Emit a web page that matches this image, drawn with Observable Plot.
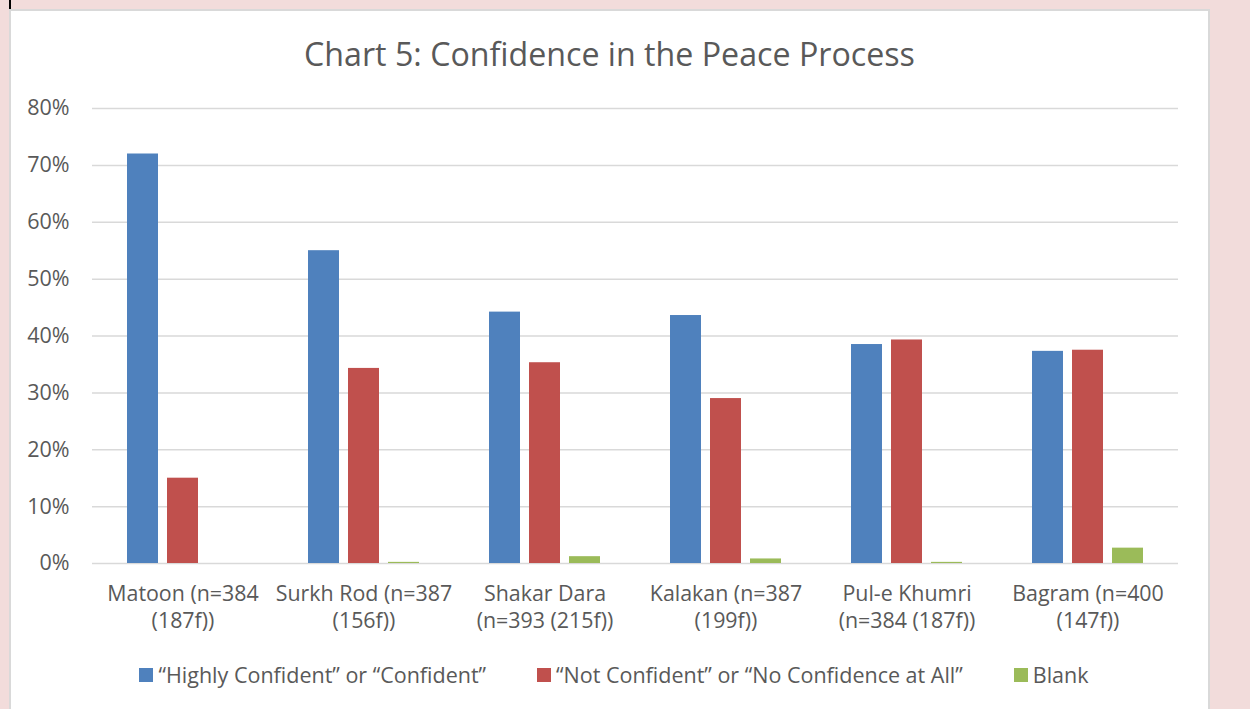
<!DOCTYPE html>
<html><head><meta charset="utf-8">
<script src="https://cdn.jsdelivr.net/npm/d3@7"></script>
<script src="https://cdn.jsdelivr.net/npm/@observablehq/plot@0.6"></script>
<style>
html,body{margin:0;padding:0;}
body{background:#f2dcdb;width:1250px;height:709px;overflow:hidden;font-family:"Open Sans",sans-serif;color:#595959;position:relative;}
#blackline{position:absolute;left:9px;top:0;width:2px;height:10px;background:#000;}
#panel{position:absolute;left:9px;top:9px;width:1197px;height:730px;background:#fff;border:2px solid #d9d9d9;box-sizing:content-box;}
#title{position:absolute;left:0;width:1197px;top:21px;text-align:center;font-size:32.2px;color:#595959;white-space:nowrap;}
#chart{position:absolute;left:0;top:79px;}
#legend{position:absolute;left:0;width:1188px;padding-left:9px;top:649px;display:flex;justify-content:center;font-size:21.5px;color:#595959;white-space:nowrap;}
.item{display:flex;align-items:center;margin:0 25.5px;}
.sw{width:14px;height:14px;margin-right:5px;display:inline-block;}
</style>
</head><body>
<div id="blackline"></div>
<div id="panel">
  <div id="title">Chart 5: Confidence in the Peace Process</div>
  <div id="chart"></div>
  <div id="legend"></div>
</div>
<script>
const categories = [
  "Matoon (n=384\n(187f))",
  "Surkh Rod (n=387\n(156f))",
  "Shakar Dara\n(n=393 (215f))",
  "Kalakan (n=387\n(199f))",
  "Pul-e Khumri\n(n=384 (187f))",
  "Bagram (n=400\n(147f))"
];
const series = [
  "\u201CHighly Confident\u201D or \u201CConfident\u201D",
  "\u201CNot Confident\u201D or \u201CNo Confidence at All\u201D",
  "Blank"
];
const colors = ["#4f81bd", "#c0504d", "#9bbb59"];
const highlyConfident = [72.0, 55.0, 44.2, 43.6, 38.5, 37.3];
const notConfident = [15.0, 34.3, 35.3, 29.0, 39.3, 37.5];
const blank = [0.0, 0.2, 1.2, 0.8, 0.2, 2.7];
const yTicks = [0, 10, 20, 30, 40, 50, 60, 70, 80];

const values = [highlyConfident, notConfident, blank];
const data = [];
categories.forEach((c, i) => {
  series.forEach((s, j) => data.push({cat: c, series: s, value: values[j][i]}));
});

const chart = Plot.plot({
  width: 1196,
  height: 560,
  marginTop: 18,
  marginBottom: 87,
  marginLeft: 80,
  marginRight: 29,
  style: {color: "#595959", fontFamily: "'Open Sans', sans-serif", background: "transparent", overflow: "visible"},
  fx: {domain: categories, padding: 0, label: null, axis: null},
  x: {domain: series, paddingInner: 0.225, paddingOuter: 0.875, axis: null},
  y: {domain: [0, 80], label: null, axis: null},
  color: {domain: series, range: colors},
  marks: [
    Plot.gridY(yTicks, {stroke: "#d9d9d9", strokeOpacity: 1, strokeWidth: 1.5}),
    Plot.barY(data, {fx: "cat", x: "series", y: "value", fill: "series"}),
    Plot.axisY(yTicks, {tickSize: 0, tickPadding: 23, fontSize: 21.5, tickFormat: d => d + "%", label: null}),
    Plot.axisFx({anchor: "bottom", tickSize: 0, tickPadding: 18, fontSize: 21.4, lineHeight: 1.26, label: null})
  ]
});
document.getElementById("chart").appendChild(chart);

const legend = document.getElementById("legend");
series.forEach((s, j) => {
  const it = document.createElement("div");
  it.className = "item";
  const sw = document.createElement("span");
  sw.className = "sw";
  sw.style.background = colors[j];
  const t = document.createElement("span");
  t.textContent = s;
  it.appendChild(sw);
  it.appendChild(t);
  legend.appendChild(it);
});
</script>
</body></html>
